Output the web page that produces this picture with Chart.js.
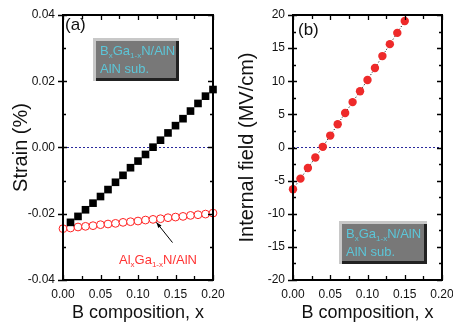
<!DOCTYPE html>
<html>
<head>
<meta charset="utf-8">
<script src="https://cdn.jsdelivr.net/npm/chart.js@4"></script>
<style>
  body { margin: 0; background: #fff; }
  #wrap { position: relative; width: 453px; height: 329px; }
  canvas { position: absolute; top: 0; }
</style>
</head>
<body>
<div id="wrap">
  <canvas id="chartA" width="226" height="329" style="left:0"></canvas>
  <canvas id="chartB" width="227" height="329" style="left:226px"></canvas>
</div>
<script>
// === Panel (a): strain ===
const xBGaN = [0.01, 0.02, 0.03, 0.04, 0.05, 0.06, 0.07, 0.08, 0.09, 0.10,
               0.11, 0.12, 0.13, 0.14, 0.15, 0.16, 0.17, 0.18, 0.19, 0.20];
const strainBGaN = [-0.0226, -0.0208, -0.0188, -0.0168, -0.0148, -0.0127, -0.0105, -0.0084, -0.0061, -0.0041,
                    -0.0021, 0.0001, 0.0022, 0.0044, 0.0066, 0.0087, 0.0110, 0.0133, 0.0155, 0.0175];
const xAlGaN = [0.00, 0.01, 0.02, 0.03, 0.04, 0.05, 0.06, 0.07, 0.08, 0.09, 0.10,
                0.11, 0.12, 0.13, 0.14, 0.15, 0.16, 0.17, 0.18, 0.19, 0.20];
const strainAlGaN = [-0.0245, -0.0243, -0.0240, -0.0238, -0.0236, -0.0233, -0.0231, -0.0229, -0.0226, -0.0224, -0.0222,
                     -0.0219, -0.0217, -0.0215, -0.0212, -0.0210, -0.0208, -0.0205, -0.0203, -0.0201, -0.0198];

// === Panel (b): internal field ===
const xField = [0.00, 0.01, 0.02, 0.03, 0.04, 0.05, 0.06, 0.07, 0.08, 0.09, 0.10, 0.11, 0.12, 0.13, 0.14, 0.15];
const fieldBGaN = [-6.3, -4.7, -3.1, -1.5, 0.1, 1.8, 3.5, 5.2, 6.85, 8.5, 10.2, 12.0, 13.8, 15.6, 17.3, 19.1];

// zero reference line (both panels)
const zeroX = [0, 0.2];
const zeroY = [0, 0];

const FONT = "'Liberation Sans', Arial, sans-serif";
const CYAN = '#5cc6d8';
const RED = '#ee2a2a';

const pts = (xs, ys) => xs.map((x, i) => ({ x: x, y: ys[i] }));

// text with subscripts: parts = [[text, isSub], ...]
function drawSubText(ctx, x, y, parts, size, color) {
  ctx.fillStyle = color;
  ctx.textBaseline = 'alphabetic';
  ctx.textAlign = 'left';
  parts.forEach(([t, sub]) => {
    ctx.font = (sub ? Math.round(size * 0.65) : size) + 'px ' + FONT;
    ctx.fillText(t, x, sub ? y + 3 : y);
    x += ctx.measureText(t).width;
  });
}

function drawLabelBox(ctx, x, y, w, h) {
  ctx.fillStyle = '#c8c8c8';
  ctx.fillRect(x, y, w, h);
  ctx.fillStyle = '#222';
  ctx.fillRect(x + 3, y + 3, w - 3, h - 3);
  ctx.fillStyle = '#787878';
  ctx.fillRect(x + 3, y + 3, w - 6, h - 6);
}

const formula = [['B', false], ['x', true], ['Ga', false], ['1-x', true], ['N/AlN', false]];

const framePlugin = {
  id: 'frame',
  afterDatasetsDraw(chart, args, opts) {
    const { ctx, chartArea: a, scales: { x, y } } = chart;
    ctx.save();
    ctx.strokeStyle = '#000';
    ctx.lineWidth = 1.3;
    ctx.beginPath();
    // x ticks, pointing in, top and bottom
    for (let v = x.min, i = 0; v <= x.max + 1e-9; v += opts.xStep, i++) {
      const px = Math.round(x.getPixelForValue(v)) + 0.5;
      const len = i % 2 === 0 ? 5 : 4;
      ctx.moveTo(px, a.bottom); ctx.lineTo(px, a.bottom - len);
      ctx.moveTo(px, a.top); ctx.lineTo(px, a.top + len);
    }
    // y ticks: major crosses left axis, minor inward
    for (let v = y.min, i = 0; v <= y.max + 1e-9; v += opts.yStep / 2, i++) {
      const py = Math.round(y.getPixelForValue(v)) + 0.5;
      if (i % 2 === 0) {
        ctx.moveTo(a.left - 5, py); ctx.lineTo(a.left + 4, py);
        ctx.moveTo(a.right, py); ctx.lineTo(a.right - 5, py);
      } else {
        ctx.moveTo(a.left, py); ctx.lineTo(a.left + 3, py);
        ctx.moveTo(a.right, py); ctx.lineTo(a.right - 3, py);
      }
    }
    ctx.stroke();
    ctx.lineWidth = 2;
    ctx.strokeRect(a.left, a.top, a.right - a.left, a.bottom - a.top);

    // panel letter
    ctx.fillStyle = '#111';
    ctx.font = '17px ' + FONT;
    ctx.textAlign = 'left';
    ctx.textBaseline = 'alphabetic';
    ctx.fillText(opts.letter, a.left + opts.letterDx, a.top + opts.letterDy);

    // grey label box
    const b = opts.box;
    drawLabelBox(ctx, b.x, b.y, b.w, b.h);
    drawSubText(ctx, b.x + 7, b.y + 17, formula, 13, CYAN);
    drawSubText(ctx, b.x + 7, b.y + 35, [['AlN sub.', false]], 13, CYAN);

    // arrow + AlGaN label (panel a only)
    if (opts.arrow) {
      const ar = opts.arrow;
      const tx = x.getPixelForValue(ar.tail[0]), ty = y.getPixelForValue(ar.tail[1]);
      const hx = x.getPixelForValue(ar.head[0]), hy = y.getPixelForValue(ar.head[1]);
      ctx.strokeStyle = '#000';
      ctx.lineWidth = 1;
      ctx.beginPath();
      ctx.moveTo(tx, ty); ctx.lineTo(hx, hy);
      ctx.stroke();
      const ang = Math.atan2(hy - ty, hx - tx);
      ctx.fillStyle = '#000';
      ctx.beginPath();
      ctx.moveTo(hx, hy);
      ctx.lineTo(hx - 6 * Math.cos(ang - 0.35), hy - 6 * Math.sin(ang - 0.35));
      ctx.lineTo(hx - 6 * Math.cos(ang + 0.35), hy - 6 * Math.sin(ang + 0.35));
      ctx.closePath();
      ctx.fill();
      drawSubText(ctx, ar.labelX, ar.labelY,
        [['Al', false], ['x', true], ['Ga', false], ['1-x', true], ['N/AlN', false]], 13, '#ff3333');
    }
    ctx.restore();
  }
};

function axisX() {
  return {
    type: 'linear', min: 0, max: 0.2,
    grid: { display: false, drawTicks: false },
    border: { display: false },
    ticks: {
      stepSize: 0.05, padding: 7, color: '#111',
      font: { family: FONT, size: 12 },
      callback: v => v.toFixed(2)
    },
    title: {
      display: true, text: 'B composition, x', color: '#111',
      font: { family: FONT, size: 18 }, padding: { top: 0, bottom: 5 }
    },
    afterFit: s => { s.height = 49; s.paddingLeft = 0; s.paddingRight = 0; }
  };
}

function axisY(min, max, step, title, width, fmt) {
  return {
    type: 'linear', min: min, max: max,
    grid: { display: false, drawTicks: false },
    border: { display: false },
    ticks: {
      stepSize: step, padding: 8, color: '#111',
      font: { family: FONT, size: 12 },
      callback: fmt
    },
    title: {
      display: true, text: title, color: '#111',
      font: { family: FONT, size: 20 }, padding: { top: 9, bottom: 0 }
    },
    afterFit: s => { s.width = width; s.paddingTop = 0; s.paddingBottom = 0; }
  };
}

const zeroLine = {
  type: 'line',
  data: pts(zeroX, zeroY),
  borderColor: '#2a2a9c',
  borderWidth: 1,
  borderDash: [2, 2],
  pointRadius: 0,
  order: 5
};

new Chart(document.getElementById('chartA'), {
  type: 'scatter',
  data: {
    datasets: [
      {
        data: pts(xBGaN, strainBGaN),
        pointStyle: 'rect', pointRadius: 5.4,
        backgroundColor: '#000', borderColor: '#000', borderWidth: 0,
        clip: false, order: 1
      },
      {
        data: pts(xAlGaN, strainAlGaN),
        pointStyle: 'circle', pointRadius: 3.9,
        backgroundColor: '#fff', borderColor: '#ff2222', borderWidth: 1,
        clip: false, order: 2
      },
      zeroLine
    ]
  },
  options: {
    responsive: false, animation: false,
    layout: { padding: { left: 0, right: 13, top: 15, bottom: 0 } },
    plugins: {
      legend: { display: false }, tooltip: { enabled: false },
      frame: {
        xStep: 0.025, yStep: 0.02, letter: '(a)', letterDx: 2, letterDy: 15,
        box: { x: 93, y: 38, w: 86, h: 43 },
        arrow: { tail: [0.146, -0.0287], head: [0.1245, -0.0226], labelX: 119, labelY: 264 }
      }
    },
    scales: {
      x: axisX(),
      y: axisY(-0.04, 0.04, 0.02, 'Strain (%)', 63, v => v.toFixed(2))
    }
  },
  plugins: [framePlugin]
});

new Chart(document.getElementById('chartB'), {
  type: 'scatter',
  data: {
    datasets: [
      {
        data: pts(xField, fieldBGaN),
        showLine: true,
        borderColor: '#000', borderWidth: 1, borderDash: [1, 2],
        pointStyle: 'circle', pointRadius: 4.2,
        pointBackgroundColor: RED, pointBorderColor: RED, pointBorderWidth: 0,
        clip: false, order: 1
      },
      Object.assign({}, zeroLine)
    ]
  },
  options: {
    responsive: false, animation: false,
    layout: { padding: { left: 0, right: 11, top: 15, bottom: 0 } },
    plugins: {
      legend: { display: false }, tooltip: { enabled: false },
      frame: {
        xStep: 0.025, yStep: 5, letter: '(b)', letterDx: 5, letterDy: 20,
        box: { x: 113, y: 221, w: 88, h: 43 }
      }
    },
    scales: {
      x: axisX(),
      y: axisY(-20, 20, 5, 'Internal field (MV/cm)', 67, v => String(v))
    }
  },
  plugins: [framePlugin]
});
</script>
</body>
</html>
